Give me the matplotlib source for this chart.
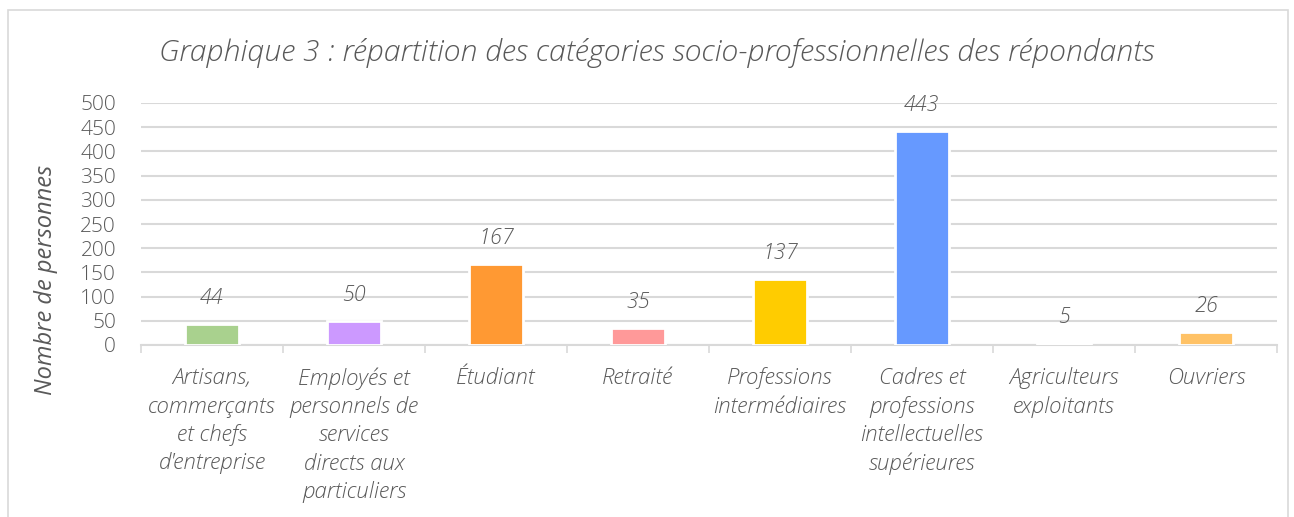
import numpy as np
import matplotlib.pyplot as plt
from matplotlib.patches import Rectangle

categories = [
    "Artisans,\ncommerçants\net chefs\nd'entreprise",
    "Employés et\npersonnels de\nservices\ndirects aux\nparticuliers",
    "Étudiant",
    "Retraité",
    "Professions\nintermédiaires",
    "Cadres et\nprofessions\nintellectuelles\nsupérieures",
    "Agriculteurs\nexploitants",
    "Ouvriers",
]
values = [44, 50, 167, 35, 137, 443, 5, 26]
colors = ['#a9d18e', '#cc99ff', '#ff9933', '#ff9999', '#ffcc00', '#6699ff', '#fafafa', '#ffc266']
yticks = [0, 50, 100, 150, 200, 250, 300, 350, 400, 450, 500]

plt.rcParams['font.family'] = ['Open Sans', 'DejaVu Sans']
plt.rcParams['font.weight'] = 'light'
plt.rcParams['hatch.linewidth'] = 1.0
plt.rcParams['hatch.color'] = '#e8e8e8'
txt = '#595959'

W, H = 1294, 517
fig = plt.figure(figsize=(W / 100, H / 100), dpi=100)
fig.patch.set_facecolor('white')

# hatched background + light frame
fig.patches.append(Rectangle((0, 0), 1, 1, transform=fig.transFigure, facecolor='white',
                             edgecolor='none', hatch='////', zorder=-10))
fig.patches.append(Rectangle((8 / W, -0.05), 1280 / W, 1 - 10 / H + 0.05, transform=fig.transFigure,
                             facecolor='none', edgecolor='#d9d9d9', linewidth=1.2, zorder=-5))

ax = fig.add_axes([141 / W, (H - 345) / H, 1136 / W, 242 / H])
ax.patch.set_alpha(0)

x = np.arange(len(categories))
ax.bar(x, values, width=0.375, color=colors, edgecolor='white', linewidth=2, zorder=3)

for xi, v in zip(x, values):
    ax.annotate(str(v), (xi, v), xytext=(0, 26), textcoords='offset pixels',
                ha='center', va='center', fontsize=15.5, style='italic', color=txt)

ax.set_xlim(-0.5, len(categories) - 0.5)
ax.set_ylim(0, 500)
ax.set_yticks(yticks)
ax.set_yticklabels([str(t) for t in yticks], fontsize=15, color=txt)
ax.yaxis.grid(True, color='#d9d9d9', linewidth=1.5, zorder=0)
ax.set_axisbelow(True)

ax.set_xticks(x)
ax.set_xticklabels(categories, fontsize=16, style='italic', color=txt, linespacing=1.37)
ax.set_xticks(np.arange(-0.5, len(categories)), minor=True)
ax.tick_params(axis='x', which='major', length=0, pad=16)
ax.tick_params(axis='x', which='minor', length=6, color='#d9d9d9', width=1.2)
ax.tick_params(axis='y', length=0, pad=18)

for s in ['top', 'right', 'left']:
    ax.spines[s].set_visible(False)
ax.spines['bottom'].set_color('#d9d9d9')
ax.spines['bottom'].set_linewidth(1.5)

ax.set_ylabel('Nombre de personnes', fontsize=17, style='italic', color=txt)
ax.yaxis.set_label_coords(-0.073, 0.27)

fig.text(657 / W, 1 - 53 / H, 'Graphique 3 : répartition des catégories socio-professionnelles des répondants',
         ha='center', va='center', fontsize=21.8, style='italic', color=txt)

fig.savefig('out.png', dpi=100)
